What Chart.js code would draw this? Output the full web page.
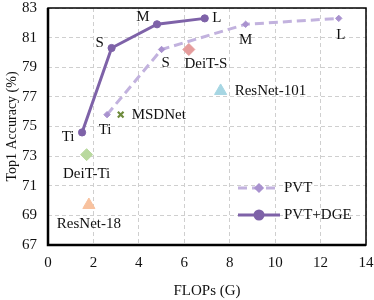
<!DOCTYPE html>
<html>
<head>
<meta charset="utf-8">
<script src="https://cdn.jsdelivr.net/npm/chart.js@4.4.0/dist/chart.umd.min.js"></script>
<style>
  html, body { margin: 0; padding: 0; background: #fff; }
  #wrap { width: 374px; height: 300px; }
</style>
</head>
<body>
<div id="wrap"><canvas id="chart" width="374" height="300"></canvas></div>
<script>
// data
const modelSizes = ["Ti", "S", "M", "L"];
const dgeFlops = [1.5, 2.8, 4.8, 6.9];
const dgeAcc = [74.6, 80.3, 81.9, 82.3];
const pvtFlops = [2.6, 5.0, 8.7, 12.8];
const pvtAcc = [75.8, 80.2, 81.9, 82.3];

const otherNames = ["MSDNet", "DeiT-S", "ResNet-101", "DeiT-Ti", "ResNet-18"];
const otherFlops = [3.2, 6.2, 7.6, 1.7, 1.8];
const otherAcc = [75.8, 80.2, 77.4, 73.1, 69.7];

const xTicks = [0, 2, 4, 6, 8, 10, 12, 14];
const yTicks = [67, 69, 71, 73, 75, 77, 79, 81, 83];

const FONT = "'Liberation Serif', 'Times New Roman', serif";
const DARK = "#7E62A8";
const LIGHT = "#C2B2DE";

// label placement (offset from the point, px)
const dgeLabelPos = [[-14, 5, "center"], [-12, -5, "center"], [-14, -7, "center"], [12, 0, "center"]];
const pvtLabelPos = [[-2, 15, "center"], [4, 14, "center"], [0, 16, "center"], [2, 17, "center"]];
const otherLabelPos = [[11, 0, "left"], [17, 15, "center"], [14, 0, "left"], [0, 19, "center"], [0, 19, "center"]];
const otherStyles = [
  { pointStyle: "crossRot", color: "#6E8B3D", radius: 4, borderWidth: 2.2 },
  { pointStyle: "rectRot", color: "#E59C9C", radius: 6, borderWidth: 1 },
  { pointStyle: "triangle", color: "#A6D6E3", radius: 7, borderWidth: 1 },
  { pointStyle: "rectRot", color: "#B9D99E", radius: 6, borderWidth: 1 },
  { pointStyle: "triangle", color: "#F8C29F", radius: 7, borderWidth: 1 }
];

const toPoints = (xs, ys) => xs.map((x, i) => ({ x: x, y: ys[i] }));

const datasets = [
  {
    label: "PVT",
    data: toPoints(pvtFlops, pvtAcc),
    showLine: true,
    borderColor: LIGHT,
    borderWidth: 3,
    borderDash: [9, 5],
    pointStyle: "rectRot",
    pointRadius: 3.2,
    pointBorderWidth: 1,
    pointBackgroundColor: "#A992CF",
    pointBorderColor: "#A992CF",
    labels: modelSizes,
    labelPos: pvtLabelPos
  },
  {
    label: "PVT+DGE",
    data: toPoints(dgeFlops, dgeAcc),
    showLine: true,
    borderColor: DARK,
    borderWidth: 3,
    pointStyle: "circle",
    pointRadius: 3.6,
    pointBorderWidth: 1,
    pointBackgroundColor: DARK,
    pointBorderColor: DARK,
    labels: modelSizes,
    labelPos: dgeLabelPos
  }
];

otherNames.forEach((name, i) => {
  const s = otherStyles[i];
  datasets.push({
    label: name,
    data: [{ x: otherFlops[i], y: otherAcc[i] }],
    pointStyle: s.pointStyle,
    pointRadius: s.radius,
    pointBorderWidth: s.borderWidth,
    pointBackgroundColor: s.color,
    pointBorderColor: s.color,
    labels: [name],
    labelPos: [otherLabelPos[i]]
  });
});

// text next to the points
const pointLabels = {
  id: "pointLabels",
  afterDatasetsDraw(chart) {
    const ctx = chart.ctx;
    ctx.save();
    ctx.font = "15px " + FONT;
    ctx.fillStyle = "#111";
    ctx.textBaseline = "middle";
    chart.data.datasets.forEach((ds, di) => {
      if (!ds.labels) return;
      const meta = chart.getDatasetMeta(di);
      meta.data.forEach((pt, i) => {
        const p = ds.labelPos[i];
        ctx.textAlign = p[2];
        ctx.fillText(ds.labels[i], pt.x + p[0], pt.y + p[1]);
      });
    });
    ctx.restore();
  }
};

// frame + legend inside the plot
const frameAndLegend = {
  id: "frameAndLegend",
  afterDraw(chart) {
    const ctx = chart.ctx;
    const a = chart.chartArea;
    ctx.save();
    ctx.strokeStyle = "#000";
    ctx.lineWidth = 1.5;
    ctx.strokeRect(a.left, a.top, a.right - a.left, a.bottom - a.top);
    ctx.lineWidth = 2.5;
    ctx.beginPath();
    ctx.moveTo(a.left, a.top);
    ctx.lineTo(a.left, a.bottom);
    ctx.lineTo(a.right, a.bottom);
    ctx.stroke();

    const x0 = a.right - 128, x1 = a.right - 86;
    const rows = [
      { ds: chart.data.datasets[0], y: a.bottom - 57, r: 3 },
      { ds: chart.data.datasets[1], y: a.bottom - 30, r: 4 }
    ];
    rows.forEach(row => {
      ctx.strokeStyle = row.ds.borderColor;
      ctx.lineWidth = row.ds.borderWidth;
      ctx.setLineDash(row.ds.borderDash || []);
      ctx.beginPath();
      ctx.moveTo(x0, row.y);
      ctx.lineTo(x1, row.y);
      ctx.stroke();
      ctx.setLineDash([]);
      ctx.fillStyle = row.ds.pointBackgroundColor;
      ctx.strokeStyle = row.ds.pointBorderColor;
      Chart.helpers.drawPoint(ctx, {
        pointStyle: row.ds.pointStyle,
        radius: row.r,
        borderWidth: 1
      }, (x0 + x1) / 2, row.y);
      ctx.fillStyle = "#111";
      ctx.font = "15px " + FONT;
      ctx.textAlign = "left";
      ctx.textBaseline = "middle";
      ctx.fillText(row.ds.label, x1 + 4, row.y);
    });
    ctx.restore();
  }
};

const ctx = document.getElementById("chart").getContext("2d");
const chart = new Chart(ctx, {
  type: "scatter",
  data: { datasets: datasets },
  options: {
    responsive: false,
    animation: false,
    layout: { padding: { top: 6, right: 8, left: 0, bottom: 0 } },
    plugins: { legend: { display: false }, tooltip: { enabled: false } },
    scales: {
      x: {
        type: "linear",
        min: 0,
        max: 14,
        afterBuildTicks: s => { s.ticks = xTicks.map(v => ({ value: v })); },
        afterFit: s => { s.height = 55; s.paddingRight = 0; s.paddingLeft = 0; },
        grid: { color: "#cfcfcf", lineWidth: 1, drawTicks: false },
        border: { display: false, dash: [4, 3] },
        ticks: { color: "#111", font: { family: FONT, size: 15 }, padding: 9 },
        title: { display: true, text: "FLOPs (G)", color: "#111", font: { family: FONT, size: 15 }, padding: { top: 4, bottom: 0 } }
      },
      y: {
        type: "linear",
        min: 67,
        max: 83,
        afterBuildTicks: s => { s.ticks = yTicks.map(v => ({ value: v })); },
        afterFit: s => { s.width = 48; s.paddingTop = 0; s.paddingBottom = 0; },
        grid: { color: "#cfcfcf", lineWidth: 1, drawTicks: false },
        border: { display: false, dash: [4, 3] },
        ticks: { color: "#111", font: { family: FONT, size: 15 }, padding: 11 },
        title: { display: true, text: "Top1 Accuracy (%)", color: "#111", font: { family: FONT, size: 14 }, padding: { bottom: 2 } }
      }
    }
  },
  plugins: [pointLabels, frameAndLegend]
});
</script>
</body>
</html>
